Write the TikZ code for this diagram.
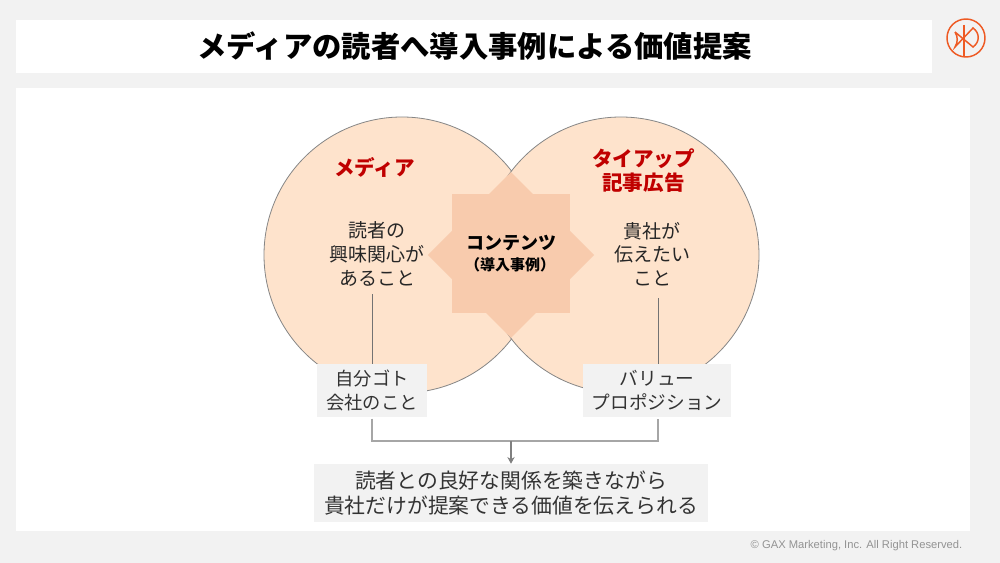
\documentclass[tikz,border=0pt]{standalone}
\usepackage{fontspec}
\usepackage{xcolor}
\setmainfont{Noto Sans CJK JP}
\setsansfont{Liberation Sans}
\usetikzlibrary{shapes.geometric, arrows.meta, positioning}
\definecolor{pagegray}{HTML}{F2F2F2}
\definecolor{circlefill}{HTML}{FEE3CC}
\definecolor{starfill}{HTML}{F8CBAD}
\definecolor{headred}{HTML}{C00000}
\definecolor{logoorange}{HTML}{EE5A24}

\begin{document}
\begin{tikzpicture}[x=0.75pt, y=-0.75pt]
\tikzstyle{panel} = [rectangle, fill=white, inner sep=0pt, anchor=north west]
\tikzstyle{bubble} = [circle, draw=gray!95, fill=circlefill, line width=0.6pt, inner sep=0pt, minimum size=207pt]
\tikzstyle{plain} = [align=center, text=black!85, font=\fontsize{14.25}{17.7}\selectfont]
\tikzstyle{head} = [align=center, text=headred, font=\fontsize{15.4}{18}\selectfont\bfseries]
\tikzstyle{graybox} = [rectangle, fill=pagegray, align=center, text=black!80, inner sep=0pt, font=\fontsize{13.7}{17.5}\selectfont]
\tikzstyle{link} = [line width=0.5pt, draw=gray!90!black]
\tikzstyle{bracket} = [line width=1pt, draw=gray!70]
\tikzstyle{arrow} = [line width=1pt, draw=gray, -{Stealth[length=5pt, width=5.5pt]}]
\tikzstyle{logoline} = [logoorange, line width=1.1pt]

\useasboundingbox (0,0) rectangle (1000,563);
\fill [pagegray] (0,0) rectangle (1000,563);

\node (titlebox) [panel, minimum width=687pt, minimum height=39.75pt] at (16,20) {};
\node (mainbox) [panel, minimum width=715.5pt, minimum height=332.25pt] at (16,88) {};
\node (title) at (474.5,46) [font=\fontsize{22}{27}\selectfont\bfseries] {メディアの読者へ導入事例による価値提案};

% venn
\node (media) [bubble] at (402,255) {};
\node (tieup) [bubble] at (621,255) {};
\fill [circlefill] (511.5,175) -- (530,255) -- (511.5,335) -- (493,255) -- cycle;
\node (square) [rectangle, fill=starfill, inner sep=0pt, minimum width=88.5pt, minimum height=89.25pt] at (511,253.5) {};
\node (rhomb) [diamond, fill=starfill, inner sep=0pt, minimum width=125pt, minimum height=124.5pt] at (511,255) {};

\node (mediahead) [head] at (374.5,167) {メディア};
\node (tieuphead) [head] at (643.5,171) {タイアップ\\記事広告};
\node (mediatext) [plain] at (377,254) {読者の\\興味関心が\\あること};
\node (tieuptext) [plain] at (652,254) {貴社が\\伝えたい\\こと};
\node (content) at (511,243) [font=\fontsize{13.5}{16}\selectfont\bfseries] {コンテンツ};
\node (contentsub) at (510,265) [font=\fontsize{11.25}{14}\selectfont\bfseries] {（導入事例）};

% boxes
\node (ownbox) [graybox, minimum width=82.5pt, minimum height=39.75pt] at (372,390.5) {自分ゴト\\会社のこと};
\node (valuebox) [graybox, minimum width=111pt, minimum height=39.75pt, font=\fontsize{14}{17.5}\selectfont] at (657,390.5) {バリュー\\プロポジション};
\node (goalbox) [graybox, minimum width=295.5pt, minimum height=43.5pt, font=\fontsize{15.6}{18.75}\selectfont] at (511,493) {読者との良好な関係を築きながら\\貴社だけが提案できる価値を伝えられる};

\coordinate (mediaend) at (372,294);
\coordinate (tieupend) at (658,298);
\coordinate (bracketmid) at (511,441);

\draw [link] (mediaend) -- (mediaend |- ownbox.north);
\draw [link] (tieupend) -- (tieupend |- valuebox.north);
\draw [bracket] ([yshift=-1pt]ownbox.south) -- (ownbox.south |- bracketmid) -- (bracketmid -| tieupend) -- ([yshift=-1pt]valuebox.south -| tieupend);
\draw [arrow] (bracketmid) -- (goalbox.north);

\node (copyright) at (856.5,546) [text=gray!85, font=\sffamily\fontsize{8.4}{10}\selectfont] {© GAX Marketing, Inc. All Right Reserved.};

% logo
\node (logo) [circle, draw=logoorange, line width=1.1pt, inner sep=0pt, minimum size=28.5pt] at (966,38) {};
\draw [logoline] (964,25) -- (964,57);
\draw [logoline] (955,32) -- (973,47) .. controls (980,42) and (980,33) .. (973,28) -- (955,47) .. controls (958,42) and (958,37) .. (955,32);
\end{tikzpicture}
\end{document}
